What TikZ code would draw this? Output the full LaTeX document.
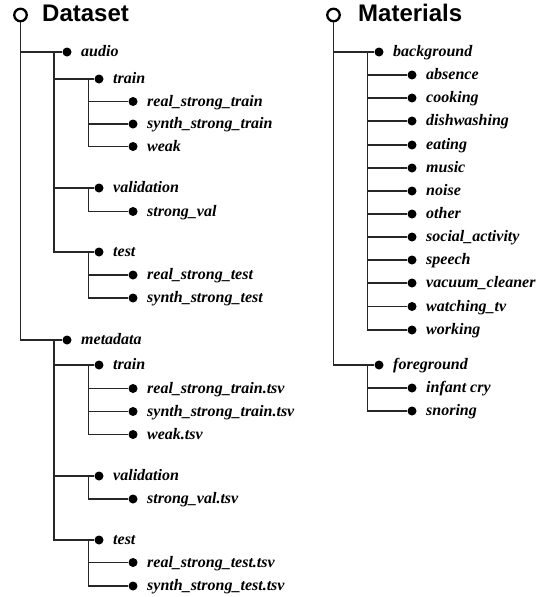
\documentclass[tikz,border=0pt]{standalone}
\usepackage{fontspec}
\setmainfont{Liberation Serif}
\newfontfamily\ttlfont{Liberation Sans}
\newcommand\tnode[4]{%
  \node[dotn] (#1) at (#2,#3) {};
  \node[lbl] (#1-t) at ([xshift=14pt,yshift=-4.6pt]#1.center) {#4};}
\begin{document}
\begin{tikzpicture}[x=1pt,y=-1pt,
  ln/.style={line width=1.8pt, draw=black!85},
  dotn/.style={circle, fill=black, inner sep=0pt, minimum size=9pt},
  lbl/.style={anchor=base west, inner sep=0pt, font=\rmfamily\bfseries\itshape\fontsize{16}{18}\selectfont},
  rootc/.style={circle, draw=black, line width=2.3pt, fill=white, inner sep=0pt, minimum size=12.5pt},
  ttl/.style={anchor=base west, inner sep=0pt, font=\ttlfont\bfseries\fontsize{24}{28}\selectfont}]
\useasboundingbox (0,0) rectangle (550,597);

% ---------------- Dataset ----------------
\node[ttl] (ds-t) at (42,21.7) {Dataset};
\tnode{audio}{67}{52}{audio}
\tnode{atrain}{99}{79}{train}
\tnode{rst}{133}{101.5}{real\_strong\_train}
\tnode{sst}{133}{124}{synth\_strong\_train}
\tnode{weak}{133}{146.5}{weak}
\tnode{aval}{99}{188}{validation}
\tnode{sv}{133}{211.5}{strong\_val}
\tnode{atest}{99}{252}{test}
\tnode{rste}{133}{275}{real\_strong\_test}
\tnode{sste}{133}{298}{synth\_strong\_test}
\tnode{meta}{67}{340}{metadata}
\tnode{mtrain}{99}{365}{train}
\tnode{rstf}{133}{388.5}{real\_strong\_train.tsv}
\tnode{sstf}{133}{411.5}{synth\_strong\_train.tsv}
\tnode{weakf}{133}{434.5}{weak.tsv}
\tnode{mval}{99}{476}{validation}
\tnode{svf}{133}{499}{strong\_val.tsv}
\tnode{mtest}{99}{540}{test}
\tnode{rstef}{133}{562.5}{real\_strong\_test.tsv}
\tnode{sstef}{133}{586}{synth\_strong\_test.tsv}

\coordinate (audio-b) at (54,52);
\coordinate (atrain-b) at (88.5,79);
\coordinate (aval-b) at (88.5,188);
\coordinate (atest-b) at (88.5,252);
\coordinate (meta-b) at (54,340);
\coordinate (mtrain-b) at (88.5,365);
\coordinate (mval-b) at (88.5,476);
\coordinate (mtest-b) at (88.5,540);

\node[rootc] (ds) at (20.5,15) {};
\draw[ln] (ds.south) |- (audio.west);
\draw[ln] (ds.south) |- (meta.west);
\draw[ln] (audio-b) |- (atrain.west);
\draw[ln] (audio-b) |- (aval.west);
\draw[ln] (audio-b) |- (atest.west);
\draw[ln] (atrain-b) |- (rst.west);
\draw[ln] (atrain-b) |- (sst.west);
\draw[ln] (atrain-b) |- (weak.west);
\draw[ln] (aval-b) |- (sv.west);
\draw[ln] (atest-b) |- (rste.west);
\draw[ln] (atest-b) |- (sste.west);
\draw[ln] (meta-b) |- (mtrain.west);
\draw[ln] (meta-b) |- (mval.west);
\draw[ln] (meta-b) |- (mtest.west);
\draw[ln] (mtrain-b) |- (rstf.west);
\draw[ln] (mtrain-b) |- (sstf.west);
\draw[ln] (mtrain-b) |- (weakf.west);
\draw[ln] (mval-b) |- (svf.west);
\draw[ln] (mtest-b) |- (rstef.west);
\draw[ln] (mtest-b) |- (sstef.west);

% ---------------- Materials ----------------
\node[ttl] (mat-t) at (358,21.7) {Materials};
\tnode{bg}{379}{52}{background}
\tnode{absence}{412}{75}{absence}
\tnode{cooking}{412}{98}{cooking}
\tnode{dish}{412}{121}{dishwashing}
\tnode{eating}{412}{145}{eating}
\tnode{music}{412}{168}{music}
\tnode{noise}{412}{191}{noise}
\tnode{other}{412}{214}{other}
\tnode{social}{412}{237}{social\_activity}
\tnode{speech}{412}{260}{speech}
\tnode{vacuum}{412}{283}{vacuum\_cleaner}
\tnode{watch}{412}{306.5}{watching\_tv}
\tnode{working}{412}{330}{working}
\tnode{fg}{379}{365}{foreground}
\tnode{infant}{412}{388}{infant cry}
\tnode{snoring}{412}{411}{snoring}

\coordinate (bg-b) at (367.5,52);
\coordinate (fg-b) at (367.5,365);

\node[rootc] (mat) at (333.5,15) {};
\draw[ln] (mat.south) |- (bg.west);
\draw[ln] (mat.south) |- (fg.west);
\foreach \c in {absence,cooking,dish,eating,music,noise,other,social,speech,vacuum,watch,working}
  \draw[ln] (bg-b) |- (\c.west);
\draw[ln] (fg-b) |- (infant.west);
\draw[ln] (fg-b) |- (snoring.west);
\end{tikzpicture}
\end{document}
